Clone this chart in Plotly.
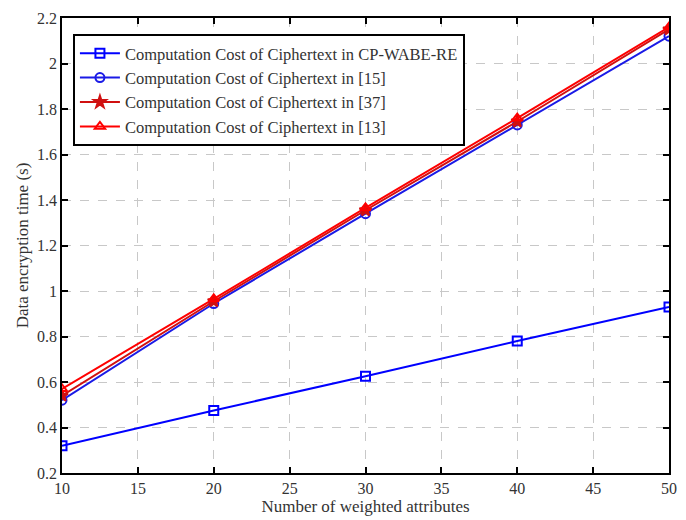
import plotly.graph_objects as go

x_vals = [10, 20, 30, 40, 50]
cpwabe = [0.32, 0.475, 0.625, 0.78, 0.93]
ref15 = [0.52, 0.945, 1.34, 1.73, 2.12]
ref37 = [0.54, 0.955, 1.355, 1.745, 2.15]
ref13 = [0.57, 0.965, 1.365, 1.76, 2.16]

names = [
    "Computation Cost of Ciphertext in CP-WABE-RE",
    "Computation Cost of Ciphertext in [15]",
    "Computation Cost of Ciphertext in [37]",
    "Computation Cost of Ciphertext in [13]",
]
series = [cpwabe, ref15, ref37, ref13]
colors = ["#0000ff", "#1a1ae6", "#d01010", "#ff0000"]
symbols = ["square-open", "circle-open", "star", "triangle-up-open"]

fig = go.Figure()
for name, ys, c, s in zip(names, series, colors, symbols):
    fig.add_trace(go.Scatter(
        x=x_vals, y=ys, name=name, mode="lines+markers",
        line=dict(color=c, width=2),
        marker=dict(symbol=s, size=9, color=c, line=dict(color=c, width=2)),
    ))

axis_common = dict(
    showline=True, linecolor="black", linewidth=1.5, mirror="ticks",
    ticks="inside", ticklen=6, tickcolor="black", tickwidth=1.5,
    showgrid=True, gridcolor="#c8c8c8", griddash="dash", gridwidth=1,
    zeroline=False,
    tickfont=dict(family="Liberation Serif", size=16, color="#333333"),
)

fig.update_layout(
    width=686, height=520,
    margin=dict(l=62, r=9, t=18, b=47),
    paper_bgcolor="white", plot_bgcolor="white",
    font=dict(family="Liberation Serif", size=16, color="#333333"),
    xaxis=dict(range=[10, 50], dtick=5, tick0=10,
               title=dict(text="Number of weighted attributes", standoff=2,
                          font=dict(family="Liberation Serif", size=17)),
               **axis_common),
    yaxis=dict(range=[0.2, 2.2], dtick=0.2, tick0=0.2,
               title=dict(text="Data encryption time (s)", standoff=4,
                          font=dict(family="Liberation Serif", size=17)),
               **axis_common),
    legend=dict(x=0.018, y=0.965, xanchor="left", yanchor="top",
                bgcolor="white", bordercolor="black", borderwidth=2,
                font=dict(family="Liberation Serif", size=16.5, color="#333333"),
                tracegroupgap=0, itemwidth=40),
    showlegend=True,
)

fig.write_html("out.html")
